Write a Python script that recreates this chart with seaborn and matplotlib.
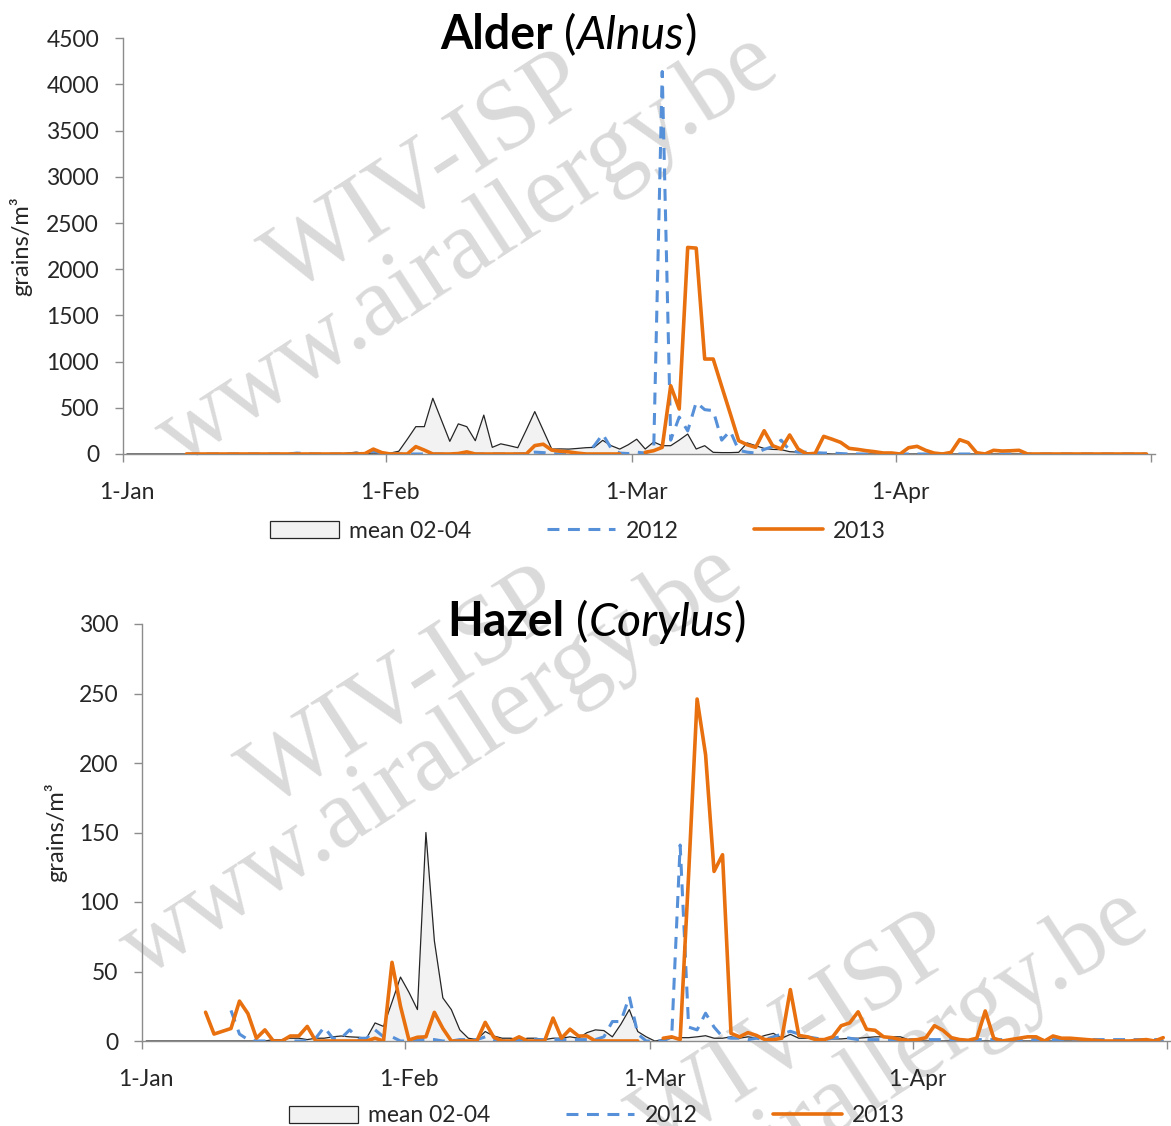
import numpy as np
import pandas as pd
import seaborn as sns
import matplotlib.pyplot as plt
from matplotlib.patches import Patch
from matplotlib.lines import Line2D

nan = np.nan

# one value per day, 1-Jan .. 30-Apr (leap-year calendar, 121 days)
days = np.arange(121)
month_ticks = [0, 31, 60, 91, 121]
month_labels = ["1-Jan", "1-Feb", "1-Mar", "1-Apr", ""]

alder_mean = [0, 0, 0, 0, 0, 0, 0, 0, 0, 0,
              0, 0, 0, 0, 0, 0, 0, 0, 0, 0,
              0, 0, 0, 0, 0, 0, 10, 20, 5, 10,
              5, 10, 30, 160, 296, 296, 603, 370, 137, 326,
              296, 144, 421, 72, 110, 90, 68, 260, 459, 256,
              53, 55, 53, 60, 68, 72, 148, 90, 53, 100,
              160, 54, 130, 90, 90, 150, 216, 54, 90, 18,
              15, 15, 18, 120, 90, 60, 50, 47, 25, 20,
              15, 11, 5, 0, 0, 0, 0, 0, 0, 0,
              0, 0, 0, 0, 0, 0, 0, 0, 0, 0,
              0, 0, 0, 0, 0, 0, 0, 0, 0, 0,
              0, 0, 0, 0, 0, 0, 0, 0, 0, 0, 0]

alder_2012 = [nan, nan, nan, nan, nan, nan, nan, 0, 0, 0,
              0, 0, 0, 0, 0, 0, 0, 0, 0, 0,
              10, 5, 0, 0, 0, 0, 0, 0, 10, 30,
              10, 0, 0, 0, 0, 0, 0, 0, 0, 0,
              0, 0, 0, 0, 0, 0, 0, 5, 20, 15,
              5, 0, 0, 0, 0, 90, 215, 60, 10, 5,
              20, 10, 54, 4140, 150, 400, 250, 560, 480, 470,
              150, 250, 40, 20, 10, 50, 80, 150, 40, 20,
              20, 15, 10, 10, 5, 0, 0, 0, 0, 0,
              0, 0, 0, 0, 0, 0, 0, 0, 0, 0,
              0, 0, 0, 0, 0, 0, 0, 0, 0, 0,
              0, 0, 0, 0, 0, 0, 0, 0, 0, 0, 0]

alder_2013 = [nan, nan, nan, nan, nan, nan, nan, 0, 0, 0,
              0, 0, 0, 0, 0, 0, 0, 0, 0, 0,
              0, 0, 0, 0, 0, 0, 0, 0, 4, 53,
              15, 0, 0, 0, 80, 42, 0, 0, 0, 5,
              23, 0, 0, 0, 0, 0, 0, 0, 91, 106,
              42, 30, 23, 10, 0, 0, 0, 0, 0, nan,
              nan, 18, 36, 72, 739, 487, 2236, 2229, 1028, 1028,
              732, 440, 144, 100, 72, 252, 90, 54, 206, 54,
              0, 7, 191, 160, 126, 61, 50, 36, 25, 11,
              11, 0, 68, 83, 40, 10, 0, 18, 155, 123,
              14, 0, 40, 32, 35, 40, 0, 0, 0, 0,
              0, 0, 0, 0, 0, 0, 0, 0, 0, 0, 0]

hazel_mean = [0, 0, 0, 0, 0, 0, 0, 0, 0, 0,
              0, 0, 0, 0, 0, 1, 1, 2, 2, 1,
              2, 2, 3, 3.6, 3, 2.7, 2, 13, 10.5, 28,
              46, 35, 22.6, 150, 72, 31, 22.6, 8, 2, 1,
              6.8, 3.6, 2, 2, 1, 2, 2, 1, 2, 2,
              3, 2, 6, 8, 7.5, 3, 12, 22.6, 6.8, 3,
              0, 1, 2, 2.4, 2.4, 3, 3.8, 2, 2, 3,
              2, 3, 2, 4, 5.5, 2, 4.8, 2, 2, 1.5,
              1.5, 1.5, 1.5, 2, 2, 2.5, 3, 3, 3, 3,
              0.7, 0, 0, 0, 0, 0, 0, 0, 0, 0,
              0, 0, 0, 0, 0, 0, 0, 0, 0, 0,
              0, 0, 0, 0, 0, 0, 0, 0, 0, 0, 0]

hazel_2012 = [nan, nan, nan, nan, nan, nan, nan, nan, nan, nan,
              22, 5, 1, 0, 0, 0, 0, 0, 0, 0,
              2, 10, 2, 2, 8, 2, 2, 8, 3, 3,
              0, 0, 1, 1, 1, 0, 0, 1, 1, 1,
              3, 1, 0, 0, 1, 1, 1, 1, 1, 1,
              1, 1, 1, 1, 3, 14, 14, 32, 5, 0,
              0, 0, 3, 141, 10, 8, 20, 10, 3, 2,
              2, 1, 2, 1, 3, 5, 7, 5, 3, 2,
              1, 2, 3, 2, 1, 1, 1, 1, 1, 1,
              1, 1, 1, 1, 1, 1, 1, 1, 1, 1,
              1, 1, 1, 1, 1, 1, 1, 1, 1, 1,
              1, 1, 1, 1, 1, 1, 1, 1, 1, 1, 1]

hazel_2013 = [nan, nan, nan, nan, nan, nan, nan, 20.7, 5, 7,
              9, 28.7, 19.7, 2, 8, 0, 0, 3.6, 3.6, 10.5,
              0, 0, 0, 0, 0, 0, 0, 2, 0, 56.6,
              25, 0.7, 2.7, 3, 20.6, 9, 0, 0, 0, 0,
              13.4, 2.7, 0, 0, 3, 0, 0, 0, 16.5, 2,
              8.5, 3.6, 3.6, 0, 0, 0, 0, 0, 0, nan,
              nan, 2, 3, 1, 120, 246, 206, 122, 134, 5.5,
              3, 6, 4, 1, 1, 2, 37, 4, 3, 1,
              1, 3, 11, 13, 21, 8.4, 7.7, 3, 2.4, 1,
              0.5, 1, 2.4, 11, 7.7, 2.4, 1, 0.5, 2, 21.6,
              2, 0, 1, 2, 3, 3, 0, 3.6, 2, 2,
              1.5, 1, 0.5, 0, 0, 0, 0, 0.5, 1, 0, 2.4]

BLUE = "#5690d8"
ORANGE = "#e8700e"
FILL = "#f2f2f2"
AXIS = "#8c8c8c"
TEXT = "#262626"

sns.set_style("ticks")
plt.rcParams["font.family"] = ["Lato", "DejaVu Sans"]

W, H = 1171, 1126
fig = plt.figure(figsize=(W / 100, H / 100), dpi=100)


def frame(vals):
    df = pd.DataFrame({"x": days + 0.5, "y": vals})
    df["seg"] = df["y"].isna().cumsum()
    return df.dropna()


def panel(rect, mean, y12, y13, ymax, ystep, label_x):
    ax = fig.add_axes(rect)
    ax.set_facecolor("none")
    x = days + 0.5
    ax.fill_between(x, mean, color=FILL, lw=0, zorder=1)
    sns.lineplot(data=frame(mean), x="x", y="y", ax=ax, color=TEXT, lw=0.9,
                 estimator=None, zorder=2)
    sns.lineplot(data=frame(y12), x="x", y="y", units="seg", estimator=None, ax=ax,
                 color=BLUE, lw=2.2, linestyle=(0, (3.9, 2.8)), zorder=3)
    sns.lineplot(data=frame(y13), x="x", y="y", units="seg", estimator=None, ax=ax,
                 color=ORANGE, lw=2.6, zorder=4)
    ax.set_xlim(0, 121)
    ax.set_ylim(0, ymax)
    ax.set_yticks(np.arange(0, ymax + 1, ystep))
    ax.set_xticks(month_ticks, [""] * len(month_ticks))
    ax.set_xticks([t + 0.5 for t in month_ticks], month_labels, minor=True)
    ax.tick_params(axis="both", which="major", length=6, width=1, color=AXIS,
                   labelsize=16.5, labelcolor=TEXT)
    ax.tick_params(axis="y", pad=11)
    ax.tick_params(axis="x", which="minor", length=0, pad=20, labelsize=16.5,
                   labelcolor=TEXT)
    sns.despine(ax=ax)
    for s in ["left", "bottom"]:
        ax.spines[s].set_color(AXIS)
        ax.spines[s].set_linewidth(1)
    ax.set_xlabel("")
    ax.set_ylabel("grains/m³", fontsize=17, color=TEXT)
    ax.yaxis.set_label_coords(label_x, 0.5)
    return ax


ax1 = panel([122.7 / W, 1 - 454 / H, 1032.3 / W, 415.7 / H],
            alder_mean, alder_2012, alder_2013, 4500, 500, -0.088)
ax2 = panel([142 / W, 1 - 1041 / H, 1029.7 / W, 417 / H],
            hazel_mean, hazel_2012, hazel_2013, 300, 50, -0.073)


def title(ax, x0, y0, main, latin):
    t = ax.text(x0 / W, 1 - y0 / H, main, transform=fig.transFigure, fontsize=33.5,
                fontweight="bold", color="black", va="baseline", ha="left")
    for s, style in [(" (", "normal"), (latin, "italic"), (")", "normal")]:
        t = ax.annotate(s, xy=(1, 0), xycoords=t, va="bottom", ha="left",
                        fontsize=33.5, fontstyle=style, color="black",
                        annotation_clip=False)


title(ax1, 440, 49, "Alder", "Alnus")
title(ax2, 447, 636, "Hazel", "Corylus")

handles = [Patch(facecolor=FILL, edgecolor=TEXT, lw=0.9, label="mean 02-04"),
           Line2D([], [], color=BLUE, lw=2.2, linestyle=(0, (3.9, 2.8)), label="2012"),
           Line2D([], [], color=ORANGE, lw=2.6, label="2013")]
for cx, cy in [(578, 531), (597, 1116)]:
    fig.legend(handles=handles, loc="center", bbox_to_anchor=(cx / W, 1 - cy / H),
               ncol=3, frameon=False, fontsize=16.5, handlelength=3.0,
               handletextpad=0.45, columnspacing=3.3, labelcolor=TEXT)

# watermark
marks = [(428, 175, "WIV-ISP"), (468, 250, "www.airallergy.be"),
         (405, 690, "WIV-ISP"), (432, 762, "www.airallergy.be"),
         (795, 1035, "WIV-ISP"), (838, 1105, "www.airallergy.be")]
for x, y, s in marks:
    fig.text(x / W, 1 - y / H, s, rotation=33, fontsize=71,
             family="Liberation Serif", color="#dadada", ha="center",
             va="center", rotation_mode="anchor", zorder=-1)

fig.savefig("out.png", dpi=100)
